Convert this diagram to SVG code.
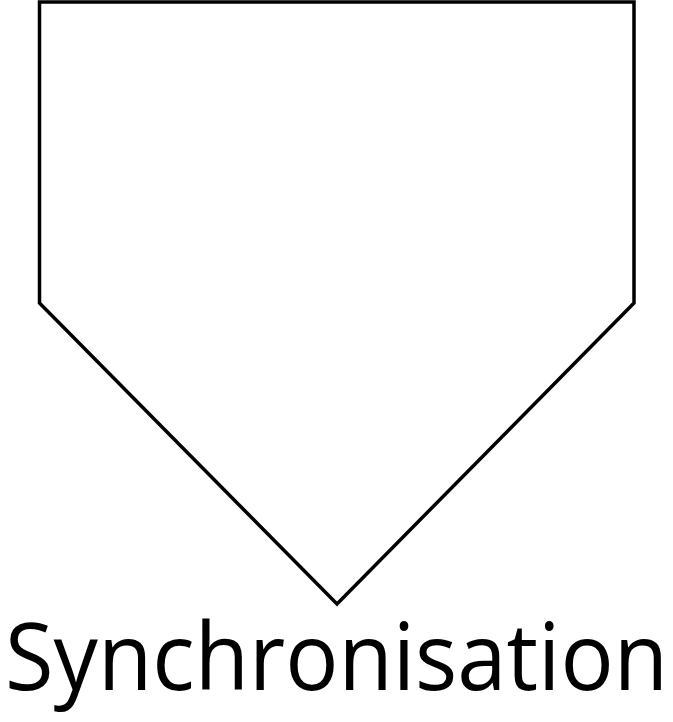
<svg xmlns="http://www.w3.org/2000/svg" width="673" height="722" viewBox="0 0 673 722">
<style>
.shape{fill:#fff;stroke:#000;stroke-width:3.5;stroke-linejoin:miter}
.lbl{font-family:"Open Sans","Noto Sans",sans-serif;font-size:94px;fill:#000}
</style>
<rect width="673" height="722" fill="#fff"/>
<g id="synchronisation">
<polygon class="shape" points="39.5,2 634,2 634,303 337,604 39.5,303"/>
<text class="lbl" x="5" y="690" textLength="663" lengthAdjust="spacingAndGlyphs">Synchronisation</text>
</g>
<g id="connectors"/>
</svg>
